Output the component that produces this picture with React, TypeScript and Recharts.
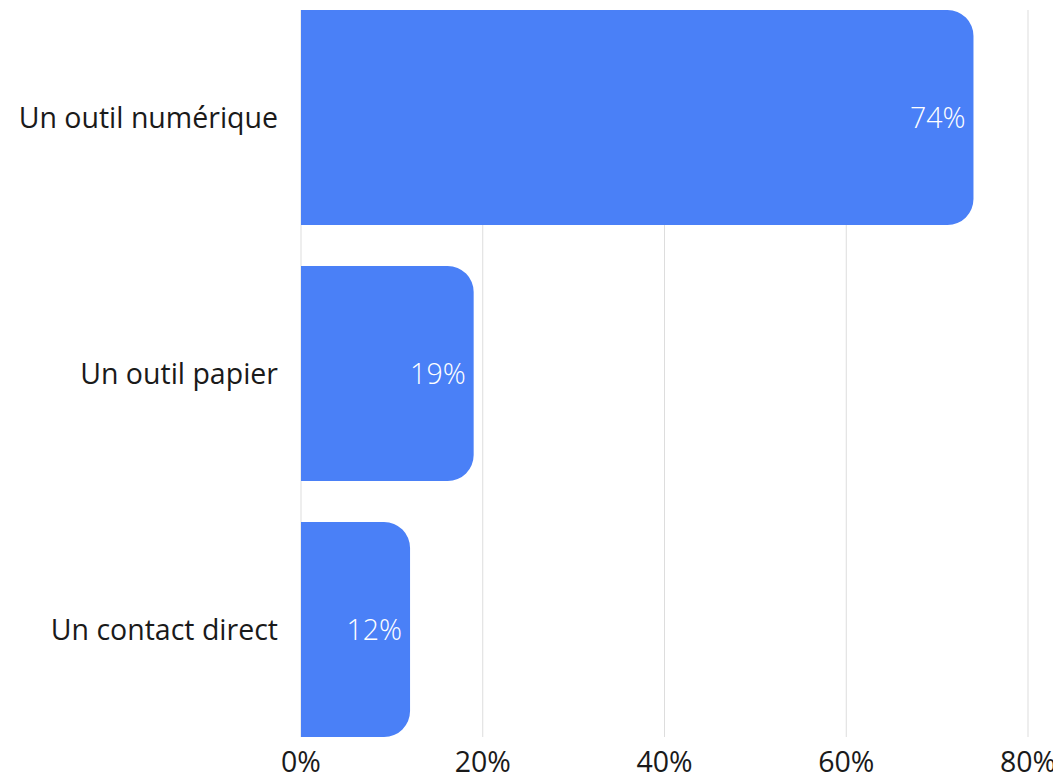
import React from "react";
import { BarChart, Bar, XAxis, YAxis, CartesianGrid, LabelList } from "recharts";

const categories = ["Un outil numérique", "Un outil papier", "Un contact direct"];
const shares = [74, 19, 12];
const xTicks = [0, 20, 40, 60, 80];

const data = categories.map((name, i) => ({ name, value: shares[i] }));

const FONT = "'Open Sans', 'Noto Sans', sans-serif";

export default function App() {
  return (
    <div style={{ fontFamily: FONT }}>
      <BarChart
        width={1053}
        height={767}
        data={data}
        layout="vertical"
        margin={{ top: 2, right: 33, bottom: 0, left: 0 }}
        barCategoryGap={20.5}
        style={{ overflow: "visible" }}
      >
        <CartesianGrid horizontal={false} stroke="#dddddd" />
        <XAxis
          type="number"
          domain={[0, 80]}
          ticks={xTicks}
          tickFormatter={(v: number) => `${v}%`}
          axisLine={false}
          tickLine={false}
          tickMargin={9}
          height={38}
          tick={{ fill: "#1a1a1a", fontSize: 28.5, fontFamily: FONT }}
          interval={0}
        />
        <YAxis
          type="category"
          dataKey="name"
          width={293}
          axisLine={false}
          tickLine={false}
          tickMargin={17}
          padding={{ top: -20.5, bottom: -20.5 }}
          tick={{ fill: "#1a1a1a", fontSize: 28.5, fontFamily: FONT }}
        />
        <Bar dataKey="value" fill="#4a80f7" radius={[0, 26, 26, 0]} isAnimationActive={false}>
          <LabelList
            dataKey="value"
            position="insideRight"
            offset={8}
            formatter={(v: number) => `${v}%`}
            style={{ fill: "#ffffff", fontSize: 28.5, fontFamily: FONT, fontWeight: 300 }}
          />
        </Bar>
      </BarChart>
    </div>
  );
}
